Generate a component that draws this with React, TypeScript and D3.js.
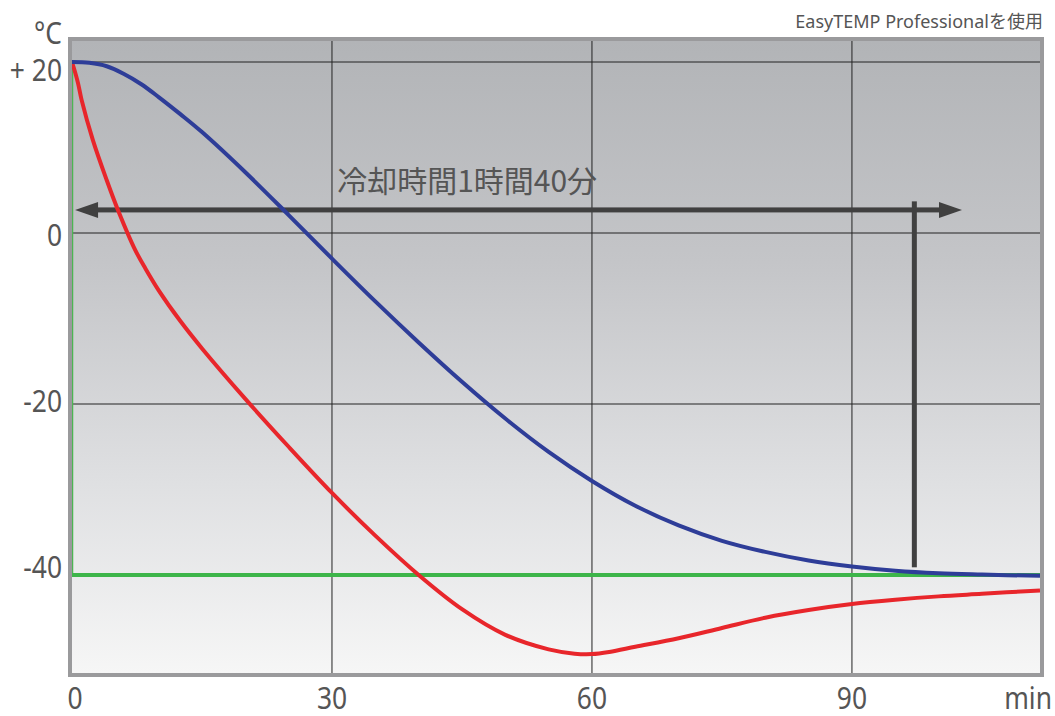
import React from "react";
import * as d3 from "d3";

// temperature curves, [minutes, °C]
const BLUE: [number, number][] = [
  [0, 20], [2, 19.9], [4, 19.5], [6, 18.6], [8, 17.4], [10, 15.9], [12.5, 13.9], [15, 11.8],
  [20, 7.1], [25, 2.1], [30, -3.0], [35, -8.0], [40, -12.8], [45, -17.4],
  [50, -21.7], [55, -25.6], [60, -29.0], [65, -31.9], [70, -34.2], [75, -36.0],
  [80, -37.3], [85, -38.3], [90, -39.0], [95, -39.5], [100, -39.8], [105, -39.95],
  [111.7, -40.1],
];

const RED: [number, number][] = [
  [0, 20], [0.3, 19.0], [0.7, 17.5], [1.1, 15.6], [2.4, 10.9], [4, 6.2], [5.3, 2.7],
  [7.3, -2.0], [8.5, -4.2], [10, -6.7], [12.5, -10.3], [15, -13.5], [20, -19.4],
  [25, -25.0], [30, -30.4], [35, -35.4], [40, -40.0], [45, -44.0], [50, -47.0],
  [55, -48.7], [58, -49.2], [60, -49.25], [62, -49.0], [65, -48.4], [70, -47.4],
  [75, -46.2], [80, -45.0], [85, -44.1], [90, -43.4], [95, -42.9], [100, -42.5],
  [105, -42.2], [111.7, -41.8],
];

const X_TICKS = [0, 30, 60, 90];
const Y_TICKS = [20, 0, -20, -40];
const Y_LABELS = ["+ 20", "0", "-20", "-40"];
const SET_TEMP = -40;

// annotation: cooling time arrow
const ARROW = { from: 0.35, to: 102.7, temp: 2.7, markT: 97.2, markTop: 3.7, markBottom: -39.1 };
const ANNOT_TEXT = "冷却時間1時間40分";
const NOTE = "EasyTEMP Professionalを使用";

const W = 1055;
const H = 716;
const LABEL_FONT = "'Noto Sans', sans-serif";
const NARROW = 0.88; // axis labels in the original use a condensed face

export default function App() {
  const left = 72, right = 1040, top = 41, bottom = 673;

  const x = d3.scaleLinear().domain([0, 111.7]).range([left, right]);
  const y = d3.scaleLinear().domain([-40, 20]).range([575, 62]);
  // tick labels sit slightly inside the tick spacing
  const yLabel = d3.scaleLinear().domain([-40, 20]).range([566, 69]);

  const line = d3
    .line<[number, number]>()
    .x((d) => x(d[0]))
    .y((d) => y(d[1]))
    .curve(d3.curveCatmullRom.alpha(0.5));

  const ay = y(ARROW.temp);
  const ax1 = x(ARROW.from);
  const ax2 = x(ARROW.to);
  const headL = 23, headH = 8;

  const label = (key: string | number, tx: number, ty: number, txt: string, anchor: string, central = false) => (
    <text
      key={key}
      transform={`translate(${tx},${ty}) scale(${NARROW},1)`}
      fontSize={30}
      fill="#555"
      textAnchor={anchor}
      dominantBaseline={central ? "central" : undefined}
    >
      {txt}
    </text>
  );

  return (
    <svg
      width={W}
      height={H}
      style={{ position: "absolute", left: 0, top: 0, display: "block", background: "#fff" }}
      fontFamily={LABEL_FONT}
    >
      <defs>
        <linearGradient id="bg" x1="0" y1="0" x2="0" y2="1">
          <stop offset="0%" stopColor="#b2b4b7" />
          <stop offset="35%" stopColor="#c4c5c8" />
          <stop offset="70%" stopColor="#dfe0e2" />
          <stop offset="100%" stopColor="#f6f6f6" />
        </linearGradient>
      </defs>

      {/* plot background */}
      <rect x={left} y={top} width={right - left} height={bottom - top} fill="url(#bg)" />

      {/* grid */}
      {Y_TICKS.filter((t) => t !== SET_TEMP).map((t) => (
        <line key={t} x1={left} x2={right} y1={y(t)} y2={y(t)} stroke="#222" strokeWidth={1} />
      ))}
      {X_TICKS.filter((t) => t > 0).map((t) => (
        <line key={t} x1={x(t)} x2={x(t)} y1={top} y2={bottom} stroke="#222" strokeWidth={1} />
      ))}

      {/* set temperature */}
      <line x1={x(0) + 0.5} x2={x(0) + 0.5} y1={y(20)} y2={y(SET_TEMP)} stroke="#4cb552" strokeWidth={1.5} />
      <line x1={x(0)} x2={right} y1={y(SET_TEMP)} y2={y(SET_TEMP)} stroke="#3db54a" strokeWidth={4} />

      {/* cooling time arrow */}
      <g fill="#404040" stroke="none">
        <rect x={ax1 + headL - 1} y={ay - 2.5} width={ax2 - ax1 - 2 * headL + 2} height={5} />
        <path d={`M${ax1},${ay} L${ax1 + headL},${ay - headH} L${ax1 + headL},${ay + headH} Z`} />
        <path d={`M${ax2},${ay} L${ax2 - headL},${ay - headH} L${ax2 - headL},${ay + headH} Z`} />
        <rect
          x={x(ARROW.markT) - 2.5}
          y={y(ARROW.markTop)}
          width={5}
          height={y(ARROW.markBottom) - y(ARROW.markTop)}
        />
      </g>

      {/* curves */}
      <path d={line(RED) || ""} fill="none" stroke="#e8262b" strokeWidth={4} strokeLinejoin="round" />
      <path d={line(BLUE) || ""} fill="none" stroke="#2e3d98" strokeWidth={4} strokeLinejoin="round" />

      {/* frame */}
      <rect x={left - 2} y={top - 2} width={right - left + 4} height={bottom - top + 4} fill="none" stroke="#9a9a9c" strokeWidth={4} />

      <text
        x={x(30.6)}
        y={y(4.8)}
        fontSize={30}
        fill="#555"
        fontFamily="'Noto Sans CJK JP', sans-serif"
      >
        {ANNOT_TEXT}
      </text>

      {/* axis labels */}
      {label("unit", 62, 44, "°C", "end")}
      {Y_TICKS.map((t, i) => label(t, 62, yLabel(t), Y_LABELS[i], "end", true))}
      {X_TICKS.map((t) => label(`x${t}`, t === 0 ? x(t) + 3 : x(t), 709, String(t), "middle"))}
      {label("min", 1052, 709, "min", "end")}

      <text x={1043} y={28} fontSize={18} fill="#555" textAnchor="end" fontFamily="'Noto Sans', 'Noto Sans CJK JP', sans-serif">
        {NOTE}
      </text>
    </svg>
  );
}
